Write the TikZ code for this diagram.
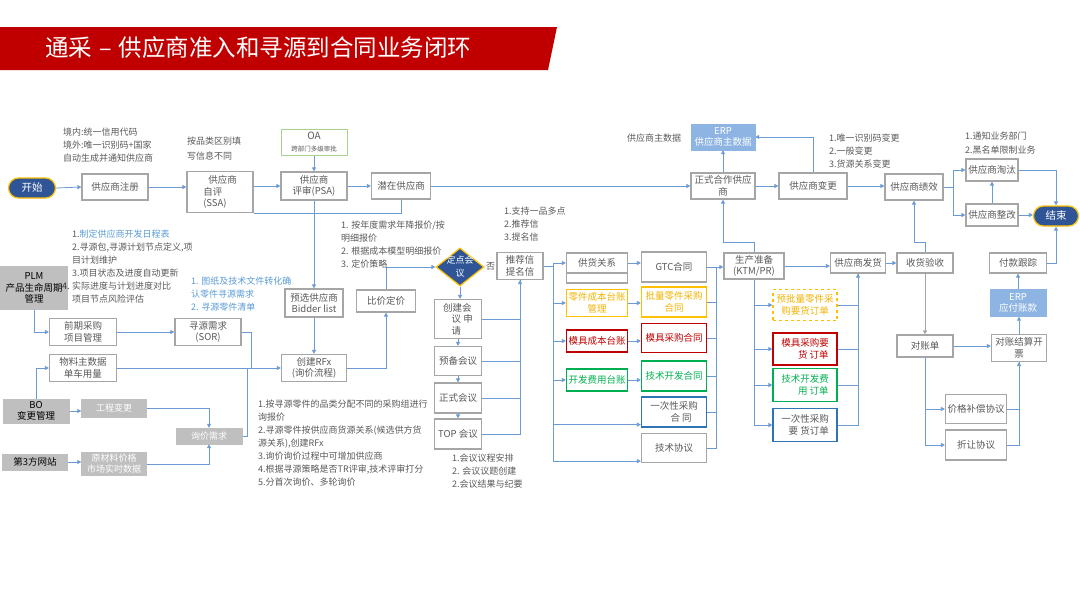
\documentclass[tikz,border=0pt]{standalone}
\usepackage{fontspec}
\setmainfont{Noto Sans CJK SC}
\usepackage{xcolor}
\usepackage{tikz}
\usetikzlibrary{shapes.geometric,arrows.meta}
\definecolor{boxgray}{HTML}{A6A6A6}
\definecolor{textgray}{HTML}{595959}
\definecolor{linkblue}{HTML}{6B9BD2}
\definecolor{navy}{HTML}{2F5597}
\definecolor{goldline}{HTML}{FFC000}
\definecolor{goldtext}{HTML}{F2B300}
\definecolor{darkred}{HTML}{C00000}
\definecolor{okgreen}{HTML}{00B050}
\definecolor{deepblue}{HTML}{2E75B6}
\definecolor{erpblue}{HTML}{8EB4E3}
\definecolor{sysgray}{HTML}{BFBFBF}
\definecolor{noteblue}{HTML}{5B9BD5}
\definecolor{titlered}{HTML}{C00000}
\definecolor{oagreen}{HTML}{A9D18E}
\tikzstyle{gray box}=[fill=white, draw=boxgray, line width=1.2pt, text=textgray, align=center, inner sep=1pt, font=\fontsize{9.5}{11.5}\selectfont]
\tikzstyle{gold box}=[gray box, draw=goldline, text=goldtext]
\tikzstyle{red box}=[gray box, draw=darkred, text=darkred]
\tikzstyle{green box}=[gray box, draw=okgreen, text=okgreen]
\tikzstyle{blue box}=[gray box, draw=deepblue]
\tikzstyle{oa box}=[gray box, draw=oagreen, line width=0.8pt]
\tikzstyle{erp box}=[fill=erpblue, draw=erpblue, text=white, align=center, inner sep=1pt, font=\fontsize{9.5}{11.5}\selectfont]
\tikzstyle{sys box}=[fill=sysgray, draw=sysgray, text=black, align=center, inner sep=1pt, font=\fontsize{9.5}{11.5}\selectfont]
\tikzstyle{data box}=[sys box, text=white, font=\fontsize{9}{11}\selectfont]
\tikzstyle{pill}=[fill=navy, draw=goldline, line width=1.2pt, rounded corners=10pt, text=white, inner sep=1pt, font=\fontsize{10.5}{12}\selectfont]
\tikzstyle{decision}=[shape=diamond, fill=navy, draw=goldline, line width=1.2pt, inner sep=0pt]
\tikzstyle{decision text}=[text=white, align=center, inner sep=0pt, font=\fontsize{9}{13}\selectfont]
\tikzstyle{note}=[text=textgray, align=left, anchor=north west, inner sep=0pt, font=\fontsize{9}{13}\selectfont]
\tikzstyle{blue note}=[note, text=noteblue]
\tikzstyle{edge}=[-, draw=linkblue, line width=0.8pt]
\tikzstyle{arrow edge}=[edge, -{Triangle[length=4pt, width=4pt]}]
\tikzstyle{gray edge}=[arrow edge, draw=boxgray, fill=boxgray]
\pgfdeclarelayer{nodelayer}
\pgfdeclarelayer{edgelayer}
\pgfsetlayers{edgelayer,nodelayer,main}

\begin{document}
\begin{tikzpicture}[x=1pt, y=-1pt]
	\useasboundingbox (0,0) rectangle (1080,608);
	\fill [titlered] (0,27) -- (557,27) -- (548,70) -- (0,70) -- cycle;
	\node [anchor=west, text=white, inner sep=0pt, font=\fontsize{23.5}{27}\selectfont] (title) at (45,48) {通采\hspace{0.3em}–\hspace{0.3em}供应商准入和寻源到合同业务闭环};
	\begin{pgfonlayer}{nodelayer}
		\node [style=pill, minimum width=47, minimum height=20] (0) at (32,188) {开始};
		\node [style=gray box, minimum width=66, minimum height=26] (1) at (115,187) {供应商注册};
		\node [style=gray box, align=left, minimum width=66, minimum height=41] (2) at (220,192) {\hspace{5pt}供应商\\自评\\(SSA)};
		\node [style=oa box, minimum width=66, minimum height=26] (3) at (314,142) {{\fontsize{10}{11}\selectfont OA}\\{\fontsize{6.5}{8}\selectfont 跨部门多级审批}};
		\node [style=gray box, minimum width=66, minimum height=28] (4) at (314,186) {供应商\\评审(PSA)};
		\node [style=gray box, minimum width=59, minimum height=26] (5) at (401,186) {潜在供应商};
		\node [style=gray box, minimum width=64, minimum height=26] (6) at (723,186) {正式合作供应\\商};
		\node [style=erp box, minimum width=64, minimum height=26] (7) at (723,137) {ERP\\供应商主数据};
		\node [style=gray box, minimum width=68, minimum height=26] (8) at (813,186) {供应商变更};
		\node [style=gray box, minimum width=58, minimum height=26] (9) at (914,187) {供应商绩效};
		\node [style=gray box, minimum width=52, minimum height=22] (10) at (992,170) {供应商淘汰};
		\node [style=gray box, minimum width=52, minimum height=22] (11) at (992,215) {供应商整改};
		\node [style=pill, minimum width=45, minimum height=20] (12) at (1056,216) {结束};
		\node [style=gray box, minimum width=57, minimum height=20] (13) at (1018,263) {付款跟踪};
		\node [style=erp box, minimum width=56, minimum height=27] (14) at (1018,303) {ERP\\应付账款};
		\node [style=gray box, minimum width=55, minimum height=27] (15) at (1019,348) {对账结算开\\票};
		\node [style=gray box, minimum width=56, minimum height=22] (16) at (925,346) {对账单};
		\node [style=gray box, minimum width=56, minimum height=20] (17) at (925,263) {收货验收};
		\node [style=gray box, minimum width=55, minimum height=20] (18) at (858,263) {供应商发货};
		\node [style=gray box, minimum width=61, minimum height=29] (19) at (976,409) {价格补偿协议};
		\node [style=gray box, minimum width=61, minimum height=30] (20) at (976,445) {折让协议};
		\node [style=gray box, minimum width=60, minimum height=26] (21) at (754,266) {生产准备\\(KTM/PR)};
		\node [style=gray box, minimum width=65, minimum height=30] (22) at (674,267) {GTC合同};
		\node [style=gold box, minimum width=65, minimum height=30] (23) at (674,302) {批量零件采购\\合同};
		\node [style=red box, minimum width=65, minimum height=29] (24) at (674,338) {模具采购合同};
		\node [style=green box, minimum width=65, minimum height=30] (25) at (674,376) {技术开发合同};
		\node [style=blue box, minimum width=65, minimum height=30] (26) at (674,412) {一次性采购\\\hspace{1.5em}合 同};
		\node [style=gray box, minimum width=65, minimum height=29] (27) at (674,448) {技术协议};
		\node [style=gray box, minimum width=61, minimum height=20] (28) at (597,263) {供货关系};
		\node [style=gray box, minimum width=61, minimum height=10] (54) at (597,278) {};
		\node [style=gold box, minimum width=61, minimum height=27] (29) at (597,303) {零件成本台账\\管理};
		\node [style=red box, minimum width=61, minimum height=22] (30) at (597,341) {模具成本台账};
		\node [style=green box, minimum width=61, minimum height=22] (31) at (597,380) {开发费用台账};
		\node [style=gold box, dashed, minimum width=64, minimum height=31] (32) at (805,305) {预批量零件采\\购要货订单};
		\node [style=red box, align=right, minimum width=64, minimum height=32] (33) at (805,349) {模具采购要\\货 订单};
		\node [style=green box, align=right, minimum width=64, minimum height=33] (34) at (805,385) {技术开发费\\用 订单};
		\node [style=blue box, align=right, minimum width=64, minimum height=33] (35) at (805,425) {一次性采购\\要 货订单};
		\node [style=gray box, minimum width=46, minimum height=27] (36) at (520,266) {推荐信\\提名信};
		\node [style=decision, minimum width=48, minimum height=38] (37) at (460,267) {};
		\node [style=decision text] (55) at (460,267) {定点会\\议};
		\node [style=gray box, align=left, minimum width=47, minimum height=39] (38) at (458,319) {创建会\\\hspace{0.9em}议 申\\\hspace{0.9em}请};
		\node [style=gray box, minimum width=47, minimum height=29] (39) at (458,361) {预备会议};
		\node [style=gray box, minimum width=47, minimum height=30] (40) at (458,398) {正式会议};
		\node [style=gray box, minimum width=47, minimum height=30] (41) at (458,434) {TOP 会议};
		\node [style=gray box, minimum width=59, minimum height=22] (42) at (386,301) {比价定价};
		\node [style=gray box, minimum width=58, minimum height=28] (43) at (314,303) {预选供应商\\Bidder list};
		\node [style=gray box, minimum width=65, minimum height=27] (44) at (314,368) {创建RFx\\(询价流程)};
		\node [style=sys box, minimum width=67, minimum height=43] (45) at (34,288) {PLM\\产品生命周期\\管理};
		\node [style=gray box, minimum width=67, minimum height=27] (46) at (83,332) {前期采购\\项目管理};
		\node [style=gray box, minimum width=66, minimum height=27] (47) at (208,332) {寻源需求\\(SOR)};
		\node [style=gray box, minimum width=67, minimum height=27] (48) at (83,368) {物料主数据\\单车用量};
		\node [style=sys box, minimum width=66, minimum height=24] (49) at (36,411) {BO\\变更管理};
		\node [style=data box, minimum width=65, minimum height=18] (50) at (114,408) {工程变更};
		\node [style=data box, minimum width=66, minimum height=16] (51) at (209,436) {询价需求};
		\node [style=sys box, minimum width=65, minimum height=16] (52) at (35,462) {第3方网站};
		\node [style=data box, minimum width=65, minimum height=23] (53) at (114,464) {原材料价格\\市场实时数据};
		\node [style=note] (60) at (63,128) {境内:统一信用代码\\境外:唯一识别码+国家\\自动生成并通知供应商};
		\node [style=note, font=\fontsize{9}{15}\selectfont] (61) at (187,137) {按品类区别填\\写信息不同};
		\node [style=note] (62) at (627,134) {供应商主数据};
		\node [style=note] (63) at (829,134) {1.唯一识别码变更\\2.一般变更\\3.货源关系变更};
		\node [style=note, font=\fontsize{9}{14}\selectfont] (64) at (965,132) {1.通知业务部门\\2.黑名单限制业务};
		\node [style=note] (65) at (72,230) {1.{\color{noteblue}制定供应商开发日程表}\\2.寻源包,寻源计划节点定义,项\\目计划维护\\3.项目状态及进度自动更新\\\llap{\color{black!80}4. }实际进度与计划进度对比\\项目节点风险评估};
		\node [style=blue note] (66) at (191,277) {1. 图纸及技术文件转化确\\认零件寻源需求\\2. 寻源零件清单};
		\node [style=note] (67) at (341,221) {1. 按年度需求年降报价/按\\明细报价\\2. 根据成本模型明细报价\\3. 定价策略};
		\node [style=note] (68) at (504,207) {1.支持一品多点\\2.推荐信\\3.提名信};
		\node [style=note] (69) at (258,400) {1.按寻源零件的品类分配不同的采购组进行\\询报价\\2.寻源零件按供应商货源关系(候选供方货\\源关系),创建RFx\\3.询价询价过程中可增加供应商\\4.根据寻源策略是否TR评审,技术评审打分\\5.分首次询价、多轮询价};
		\node [style=note] (70) at (452,454) {1.会议议程安排\\2. 会议议题创建\\2.会议结果与纪要};
	\end{pgfonlayer}
	\begin{pgfonlayer}{edgelayer}
		\coordinate (c1) at (953,187);
		\coordinate (c2) at (716,267);
		\coordinate (c3) at (553,266);
		\coordinate (c5) at (251,368);
		\coordinate (c6) at (247,368);
		\draw [style=arrow edge] (0.east) -- (1.west);
		\draw [style=arrow edge] (1.east) -- (1.east -| 2.west);
		\draw [style=arrow edge] (2.east |- 4.west) -- (4.west);
		\draw [style=arrow edge] (3.south) -- (4.north);
		\draw [style=arrow edge] (4.east) -- (5.west);
		\draw [style=arrow edge] (5.east) -- (6.west);
		\draw [style=edge] (5.south) |- (2.south east);
		\draw [style=arrow edge] (6.north) -- (7.south);
		\draw [style=arrow edge] (6.east) -- (8.west);
		\draw [style=arrow edge] (8.north) |- (7.east);
		\draw [style=arrow edge] (8.east) -- (8.east -| 9.west);
		\draw [style=edge] (9.east) -- (c1);
		\draw [style=arrow edge] (c1) |- (10.west);
		\draw [style=arrow edge] (c1) |- (11.west);
		\draw [style=arrow edge] (11.north) -- (10.south);
		\draw [style=arrow edge] (11.east) -- (11.east -| 12.west);
		\draw [style=arrow edge] (10.east) -| (12.north);
		\draw [style=arrow edge] (13.east) -| (12.south);
		\draw [style=arrow edge] (14.north) -- (13.south);
		\draw [style=arrow edge] (15.north) -- (15.north |- 14.south);
		\draw [style=arrow edge] (16.east) -- (16.east -| 15.west);
		\draw [style=gray edge] (17.south) -- (16.north);
		\draw [style=arrow edge] (17.north) -- ++(0,-10) -| (9.south);
		\draw [style=arrow edge] (18.east) -- (17.west);
		\draw [style=arrow edge] (16.south) |- (19.west);
		\draw [style=arrow edge] (16.south) |- (20.west);
		\draw [style=edge] (19.east) -| (15.south);
		\draw [style=arrow edge] (20.east) -| (15.south);
		\draw [style=arrow edge] (21.north) -- ++(0,-10) -| (6.south);
		\draw [style=arrow edge] (21.east) -- (21.east -| 18.west);
		\draw [style=arrow edge] (21.south) |- (32.west);
		\draw [style=arrow edge] (21.south) |- (33.west);
		\draw [style=arrow edge] (21.south) |- (34.west);
		\draw [style=arrow edge] (21.south) |- (35.west);
		\draw [style=edge] (32.east) -| (18.south);
		\draw [style=edge] (33.east) -| (18.south);
		\draw [style=edge] (34.east) -| (18.south);
		\draw [style=arrow edge] (35.east) -| (18.south);
		\draw [style=arrow edge] (22.east) -- (22.east -| 21.west);
		\draw [style=edge] (23.east) -| (c2);
		\draw [style=edge] (24.east) -| (c2);
		\draw [style=edge] (25.east) -| (c2);
		\draw [style=edge] (26.east) -| (c2);
		\draw [style=edge] (27.east) -| (c2);
		\draw [style=arrow edge] (28.east) -- (28.east -| 22.west);
		\draw [style=arrow edge] (29.east) -- (29.east -| 23.west);
		\draw [style=arrow edge] (30.east) -- (30.east -| 24.west);
		\draw [style=arrow edge] (31.east) -- (31.east -| 25.west);
		\draw [style=edge] (36.east) -- (c3);
		\draw [style=arrow edge] (c3) |- (28.west);
		\draw [style=arrow edge] (c3) |- (29.west);
		\draw [style=arrow edge] (c3) |- (30.west);
		\draw [style=arrow edge] (c3) |- (31.west);
		\draw [style=arrow edge] (c3) |- ([yshift=3pt]26.south west);
		\draw [style=arrow edge] (c3) |- ([yshift=2pt]27.south west);
		\draw [style=edge] (37.east) -- node [fill=white, text=textgray, inner sep=1pt, font=\fontsize{9}{11}\selectfont] (56) {否} (36.west);
		\draw [style=arrow edge] (37.south) -- (37.south |- 38.north);
		\draw [style=arrow edge] (38.south) -- (39.north);
		\draw [style=arrow edge] (39.south) -- (40.north);
		\draw [style=arrow edge] (40.south) -- (41.north);
		\draw [style=edge] (38.east) -| (36.south);
		\draw [style=edge] (39.east) -| (36.south);
		\draw [style=edge] (40.east) -| (36.south);
		\draw [style=arrow edge] (41.east) -| (36.south);
		\draw [style=arrow edge] (42.north) |- (37.west);
		\draw [style=arrow edge] (44.east) -| (42.south);
		\draw [style=arrow edge] (4.south) -- (43.north);
		\draw [style=arrow edge] (43.south) -- (44.north);
		\draw [style=arrow edge] (45.south) |- (46.west);
		\draw [style=arrow edge] (46.east) -- (47.west);
		\draw [style=edge] (47.east) -| (c5);
		\draw [style=arrow edge] (48.east) -- (44.west);
		\draw [style=arrow edge] (49.north) |- (48.west);
		\draw [style=arrow edge] (49.east) -- (49.east -| 50.west);
		\draw [style=arrow edge] (50.east) -| (51.north);
		\draw [style=arrow edge] (52.east) -- (52.east -| 53.west);
		\draw [style=arrow edge] (53.east) -| (51.south);
		\draw [style=edge] (51.east) -| (c6);
	\end{pgfonlayer}
\end{tikzpicture}
\end{document}
